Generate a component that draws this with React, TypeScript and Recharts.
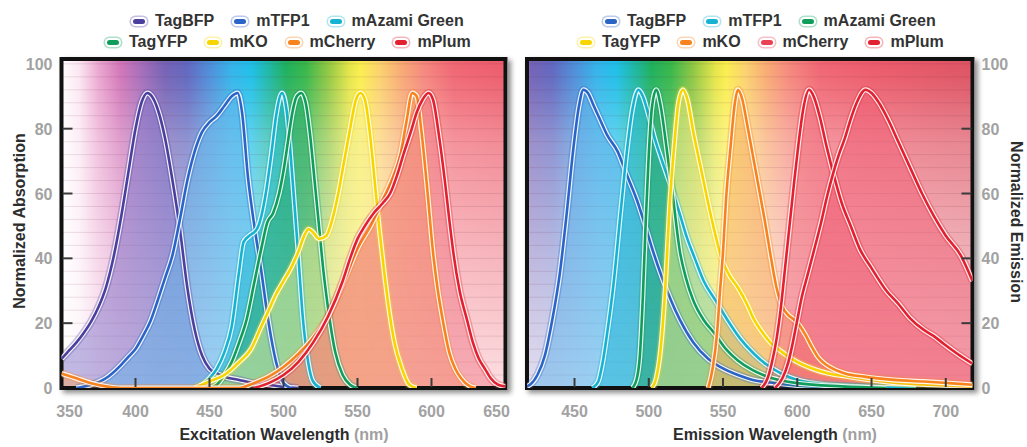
import React from "react";
import { ComposedChart, Area, Line, XAxis, YAxis, CartesianGrid, ReferenceArea } from "recharts";

type Pt = [number, number];

// axis ticks
const exTicks = [350, 400, 450, 500, 550, 600, 650];
const emTicks = [450, 500, 550, 600, 650, 700];
const yTicks = [0, 20, 40, 60, 80, 100];

const names = ["TagBFP", "mTFP1", "mAzami Green", "TagYFP", "mKO", "mCherry", "mPlum"];

// excitation spectra (nm, normalized absorption)
const tagBfpEx: Pt[] = [[350, 9], [355, 11.5], [360, 14], [365, 17], [370, 20.5], [375, 25], [380, 31], [385, 40], [390, 52], [395, 66], [400, 80], [404, 88], [408, 91], [411, 90], [415, 86], [420, 77], [425, 64], [430, 49], [435, 31], [440, 18], [445, 10], [450, 6], [455, 4.5], [460, 3.5], [470, 2.5], [480, 1.5], [490, 1], [500, 0.3], [510, 0]];
const mTfp1Ex: Pt[] = [[360, 0], [370, 1], [380, 3], [390, 7], [395, 9.5], [400, 12], [405, 16], [410, 20.5], [415, 27], [420, 34], [425, 41], [430, 52], [435, 64], [440, 73], [445, 79], [450, 82], [455, 84], [460, 87], [465, 90], [469, 91], [472, 85], [476, 65], [480, 51], [485, 36], [490, 20], [495, 8], [500, 1.5], [505, 0]];
const mAzamiEx: Pt[] = [[440, 0], [445, 1], [450, 3], [455, 6], [460, 11], [465, 19], [470, 36], [473, 45], [477, 47], [482, 49], [485, 53], [488, 60], [492, 73], [495, 84], [499, 91], [502, 86], [506, 65], [510, 41], [513, 22], [516, 10], [520, 2], [525, 0]];
const tagYfpEx: Pt[] = [[450, 0], [455, 1], [460, 4], [465, 8], [470, 14], [475, 21], [480, 32], [485, 43], [489, 51], [493, 54], [497, 60], [500, 67], [503, 76], [506, 85], [509, 90], [512, 91], [515, 88], [518, 78], [521, 64], [524, 50], [527, 36], [530, 25], [535, 11], [540, 4], [545, 1], [550, 0]];
const mKoEx: Pt[] = [[440, 0], [450, 2], [460, 4], [470, 8], [478, 12], [485, 19], [490, 24], [495, 29], [500, 33], [505, 37], [510, 42], [514, 47], [517, 49], [520, 48], [524, 46], [529, 47], [533, 52], [537, 60], [541, 70], [545, 80], [549, 89], [552, 91], [555, 89], [558, 80], [562, 62], [565, 48], [568, 36], [572, 22], [575, 14], [580, 6], [585, 1], [590, 0]];
const mCherryEx: Pt[] = [[350, 4.5], [360, 3], [370, 1.5], [380, 0.5], [390, 0], [470, 0], [480, 1.5], [490, 3.5], [500, 6.5], [510, 10.5], [520, 15.5], [530, 22], [540, 32], [550, 43], [560, 51], [567, 58], [573, 64], [579, 72], [583, 82], [587, 91], [590, 90], [593, 80], [597, 62], [601, 42], [604, 31], [608, 20], [612, 11], [616, 6], [620, 3], [626, 0.5], [630, 0]];
const mPlumEx: Pt[] = [[480, 0], [490, 1.5], [500, 4], [510, 8], [520, 14], [530, 22], [540, 33], [545, 40], [550, 46], [555, 50], [561, 54], [567, 57], [572, 60], [577, 66], [581, 72], [586, 79], [590, 85], [594, 89], [598, 91], [601, 89], [605, 78], [609, 64], [612, 52], [615, 41], [619, 30], [624, 21], [628, 14], [632, 9], [636, 6], [640, 3], [645, 1], [650, 0.5]];

// emission spectra (nm, normalized emission)
const tagBfpEm: Pt[] = [[418, 0.5], [420, 1], [425, 4], [430, 10], [435, 21], [440, 35], [445, 55], [449, 73], [453, 87], [456, 92], [459, 91], [463, 87], [467, 83], [472, 78], [479, 73], [485, 66], [492, 58], [497, 51], [503, 42], [509, 34], [515, 27], [521, 21], [530, 14], [540, 9], [548, 6.5], [560, 4], [570, 2.5], [585, 1.5], [600, 0.8], [620, 0.3], [640, 0]];
const mTfp1Em: Pt[] = [[462, 0], [466, 2], [469, 8], [472, 17], [476, 31], [481, 54], [485, 72], [489, 86], [493, 92], [496, 90], [500, 84], [504, 77], [509, 70], [515, 62], [520, 55], [526, 46], [531, 40], [537, 33], [545, 27], [553, 21], [562, 15], [571, 10.5], [580, 7], [589, 4.5], [600, 2.5], [620, 1], [650, 0.3], [680, 0]];
const mAzamiEm: Pt[] = [[489, 0], [492, 3], [494, 10], [496, 28], [498, 52], [500, 72], [502, 86], [505, 92], [508, 87], [512, 74], [516, 60], [521, 42], [525, 34], [530, 27], [537, 21], [544, 17], [552, 12], [560, 8.5], [570, 5.5], [580, 3.5], [600, 1.5], [630, 0.5], [660, 0]];
const tagYfpEm: Pt[] = [[502, 0], [505, 3], [508, 12], [511, 30], [514, 56], [517, 74], [520, 88], [523, 92], [526, 89], [530, 79], [535, 68], [540, 57], [545, 47], [549, 40], [554, 35], [560, 31], [566, 26], [571, 21], [576, 17.5], [582, 14], [590, 11], [598, 8.5], [610, 6], [621, 4.5], [635, 3.5], [650, 2.5], [670, 1.5], [690, 1], [718, 0.5]];
const mKoEm: Pt[] = [[540, 0], [543, 6], [546, 17], [548, 30], [550, 42], [552, 58], [555, 74], [558, 88], [560, 92], [563, 89], [566, 82], [570, 72], [574, 62], [578, 52], [582, 41], [586, 31], [590, 25], [594, 22.5], [598, 21], [602, 19], [606, 16], [610, 12.5], [614, 9.5], [620, 7], [626, 5.5], [632, 4.5], [645, 3.5], [665, 2.5], [685, 2], [702, 1.5], [718, 1]];
const mCherryEm: Pt[] = [[576, 0], [580, 3], [583, 8], [586, 15], [589, 25], [592, 38], [595, 51], [598, 64], [601, 76], [604, 86], [608, 92], [611, 90], [615, 84], [620, 74], [625, 65], [630, 57], [636, 50], [642, 43], [650, 37], [660, 30], [668, 26], [676, 21.5], [685, 18], [692, 16], [699, 13.5], [708, 10.5], [718, 7.5]];
const mPlumEm: Pt[] = [[585, 0], [590, 3], [594, 8], [597, 14], [600, 21], [603, 28], [607, 35], [611, 42], [616, 51], [620, 59], [624, 66], [628, 72], [632, 77], [636, 83], [640, 88], [646, 92], [650, 91], [655, 88], [661, 83], [668, 76], [676, 68], [684, 60], [692, 53], [700, 47], [710, 41], [718, 33]];

const exSpectra = [tagBfpEx, mTfp1Ex, mAzamiEx, tagYfpEx, mKoEx, mCherryEx, mPlumEx];
const emSpectra = [tagBfpEm, mTfp1Em, mAzamiEm, tagYfpEm, mKoEm, mCherryEm, mPlumEm];

const C = {
  purple: "#4b3f9e",
  blue: "#2a64c6",
  cyan: "#16b2d2",
  green: "#0f9d5c",
  yellow: "#f7d600",
  orange: "#f7831f",
  red: "#e3202f",
  pink: "#ea4254",
};
const exColors = [C.purple, C.blue, C.cyan, C.green, C.yellow, C.orange, C.red];
const exFills = ["#7d6ec6", "#5cb4ea", "#14b6d0", "#1fa566", "#f6ee90", "#f6a461", "#f07684"];
const emColors = [C.blue, C.cyan, C.green, C.yellow, C.orange, C.red, C.red];
const emFills = ["#5aaee8", "#16b4d6", "#1ba268", "#f7ec7a", "#f7a656", "#f06a7c", "#ee5a70"];
const exLegend = [C.purple, C.blue, C.cyan, C.green, C.yellow, C.orange, C.red];
const emLegend = [C.blue, C.cyan, C.green, C.yellow, C.orange, C.pink, C.red];

// wavelength -> background colour
const spectrumStops: [number, string][] = [
  [350, "#ffffff"], [362, "#fbe6f1"], [375, "#eba6d0"], [390, "#d174b7"], [405, "#a06bb9"],
  [420, "#7360b4"], [435, "#5f66bf"], [450, "#4c8cd8"], [465, "#31b3ea"], [478, "#1cbfe8"],
  [490, "#1bb7a6"], [502, "#1caf5a"], [515, "#35b648"], [530, "#8fc640"], [545, "#e6e646"],
  [552, "#fbee4c"], [565, "#fbd16c"], [580, "#f8a872"], [595, "#f5867c"], [615, "#f06572"],
  [650, "#ec5a6a"], [720, "#dc5262"],
];
const stripeValues = Array.from({ length: 25 }, (_, i) => (i + 1) * 4);

function buildTable(series: Pt[][]) {
  const xs = Array.from(new Set(series.flatMap((s) => s.map((p) => p[0])))).sort((a, b) => a - b);
  return xs.map((nm) => {
    const row: Record<string, number> = { nm };
    series.forEach((s, i) => {
      const hit = s.find((p) => p[0] === nm);
      if (hit) row["s" + i] = hit[1];
    });
    return row;
  });
}

const exData = buildTable(exSpectra);
const emData = buildTable(emSpectra);

const FONT = '"Liberation Sans", Arial, Helvetica, sans-serif';
const Y_MAX = 101.5;

function XTick(props: any) {
  const { x, y, payload, lo, hi } = props;
  const isLo = payload.value === lo;
  const isHi = payload.value === hi;
  const shift = isLo ? 8 : isHi ? -9 : 0;
  return (
    <g>
      {!isLo && !isHi && <line x1={x} x2={x} y1={y - 1} y2={y - 10} stroke="#3a3a3a" strokeWidth={2} />}
      <text x={x + shift} y={y + 29} textAnchor="middle" fill="#a2a2a2" fontFamily={FONT} fontWeight="bold" fontSize={16}>
        {payload.value}
      </text>
    </g>
  );
}

function YTick(props: any) {
  const { x, y, payload, side } = props;
  const dir = side === "left" ? 1 : -1;
  const edge = payload.value === 0 || payload.value === 100;
  return (
    <g>
      {!edge && <line x1={x + dir} x2={x + dir * 11} y1={y} y2={y} stroke="#3a3a3a" strokeWidth={2} />}
      <text
        x={x - dir * 9}
        y={y + 6}
        textAnchor={side === "left" ? "end" : "start"}
        fill="#a2a2a2"
        fontFamily={FONT}
        fontWeight="bold"
        fontSize={16}
      >
        {payload.value}
      </text>
    </g>
  );
}

function seriesMarks(colors: string[], fills: string[]) {
  const areas = colors.map((_, i) => (
    <Area
      key={"f" + i}
      type="monotone"
      dataKey={"s" + i}
      stroke="none"
      fill={fills[i]}
      fillOpacity={0.48}
      connectNulls
      dot={false}
      activeDot={false}
      isAnimationActive={false}
    />
  ));
  const lines = colors.flatMap((c, i) => [
    <Line key={"g" + i} type="monotone" dataKey={"s" + i} stroke={c} strokeOpacity={0.3} strokeWidth={8} dot={false} activeDot={false} connectNulls isAnimationActive={false} />,
    <Line key={"w" + i} type="monotone" dataKey={"s" + i} stroke="#ffffff" strokeOpacity={0.9} strokeWidth={5} dot={false} activeDot={false} connectNulls isAnimationActive={false} />,
    <Line key={"c" + i} type="monotone" dataKey={"s" + i} stroke={c} strokeWidth={2.6} dot={false} activeDot={false} connectNulls isAnimationActive={false} />,
  ]);
  return [...areas, ...lines];
}

function LegendRow({ items, left, top }: { items: [string, string][]; left: number; top: number }) {
  return (
    <div style={{ position: "absolute", left, top, display: "flex", alignItems: "center", gap: 17, whiteSpace: "nowrap", lineHeight: "18px" }}>
      {items.map(([name, color]) => (
        <div key={name} style={{ display: "flex", alignItems: "center" }}>
          <span
            style={{
              display: "inline-block",
              width: 12,
              height: 5,
              borderRadius: 3,
              background: color,
              boxShadow: `0 0 0 2px #ffffff, 0 0 0 3.5px ${color}55`,
              marginLeft: 3,
              marginRight: 10,
            }}
          />
          <span>{name}</span>
        </div>
      ))}
    </div>
  );
}

function Panel(props: {
  left: number;
  width: number;
  data: Record<string, number>[];
  domain: [number, number];
  ticks: number[];
  gradId: string;
  colors: string[];
  fills: string[];
  axisSide: "left" | "right";
}) {
  const { left, width, data, domain, ticks, gradId, colors, fills, axisSide } = props;
  const margin = axisSide === "left" ? { top: 59, right: 14.5, bottom: 29, left: 11.5 } : { top: 59, right: 14.5, bottom: 29, left: 12 };
  return (
    <div style={{ position: "absolute", left, top: 0, width, height: 447 }}>
      <ComposedChart width={width} height={447} data={data} margin={margin}>
        <CartesianGrid fill={`url(#${gradId})`} stroke="none" horizontal={false} vertical={false} />
        <CartesianGrid fill="url(#fadeV)" horizontalValues={stripeValues} vertical={false} stroke="rgba(110,50,70,0.13)" />
        <XAxis
          dataKey="nm"
          type="number"
          domain={domain}
          ticks={ticks}
          interval={0}
          allowDataOverflow
          axisLine={false}
          tickLine={false}
          tickSize={0}
          tickMargin={0}
          height={30}
          tick={<XTick lo={domain[0]} hi={domain[1]} />}
        />
        <YAxis
          orientation={axisSide}
          type="number"
          domain={[0, Y_MAX]}
          ticks={yTicks}
          interval={0}
          allowDataOverflow
          axisLine={false}
          tickLine={false}
          tickSize={0}
          tickMargin={0}
          width={axisSide === "left" ? 50 : 40}
          tick={<YTick side={axisSide} />}
        />
        {seriesMarks(colors, fills)}
        <ReferenceArea x1={domain[0]} x2={domain[1]} y1={0} y2={Y_MAX} fill="none" stroke="#111111" strokeWidth={4} ifOverflow="visible" />
      </ComposedChart>
    </div>
  );
}

function gradStops(lo: number, hi: number) {
  return spectrumStops.map(([nm, c]) => (
    <stop key={nm} offset={Math.min(1, Math.max(0, (nm - lo) / (hi - lo)))} stopColor={c} />
  ));
}

export default function App() {
  const titleStyle: React.CSSProperties = {
    position: "absolute",
    fontFamily: FONT,
    fontWeight: "bold",
    fontSize: 16,
    color: "#2d2d2d",
    whiteSpace: "nowrap",
    lineHeight: "18px",
  };
  return (
    <div style={{ position: "absolute", left: 0, top: 0, width: 1027, height: 447, background: "#ffffff", fontFamily: FONT, fontWeight: "bold", fontSize: 16, color: "#333333", overflow: "hidden" }}>
      <svg width={0} height={0} style={{ position: "absolute" }}>
        <defs>
          <linearGradient id="specEx" x1="0" x2="1" y1="0" y2="0">
            {gradStops(350, 650)}
          </linearGradient>
          <linearGradient id="specEm" x1="0" x2="1" y1="0" y2="0">
            {gradStops(418, 718)}
          </linearGradient>
          <linearGradient id="fadeV" x1="0" x2="0" y1="0" y2="1">
            <stop offset={0} stopColor="#ffffff" stopOpacity={0} />
            <stop offset={0.06} stopColor="#ffffff" stopOpacity={0.05} />
            <stop offset={0.25} stopColor="#ffffff" stopOpacity={0.3} />
            <stop offset={0.6} stopColor="#ffffff" stopOpacity={0.55} />
            <stop offset={1} stopColor="#ffffff" stopOpacity={0.8} />
          </linearGradient>
        </defs>
      </svg>

      {/* drop shadows behind the framed plots */}
      <div style={{ position: "absolute", left: 59.5, top: 57, width: 448, height: 333, boxShadow: "3px 3px 5px rgba(0,0,0,0.45)" }} />
      <div style={{ position: "absolute", left: 525, top: 57, width: 449.5, height: 333, boxShadow: "3px 3px 5px rgba(0,0,0,0.45)" }} />

      <Panel left={0} width={520} data={exData} domain={[350, 650]} ticks={exTicks} gradId="specEx" colors={exColors} fills={exFills} axisSide="left" />
      <Panel left={515} width={512} data={emData} domain={[418, 718]} ticks={emTicks} gradId="specEm" colors={emColors} fills={emFills} axisSide="right" />

      <LegendRow items={names.slice(0, 3).map((n, i) => [n, exLegend[i]] as [string, string])} left={130} top={12} />
      <LegendRow items={names.slice(3).map((n, i) => [n, exLegend[i + 3]] as [string, string])} left={104} top={33} />
      <LegendRow items={names.slice(0, 3).map((n, i) => [n, emLegend[i]] as [string, string])} left={602} top={12} />
      <LegendRow items={names.slice(3).map((n, i) => [n, emLegend[i + 3]] as [string, string])} left={577} top={33} />

      <div style={{ ...titleStyle, left: 284, top: 426, transform: "translateX(-50%)" }}>
        Excitation Wavelength <span style={{ color: "#a0a0a0" }}>(nm)</span>
      </div>
      <div style={{ ...titleStyle, left: 775, top: 426, transform: "translateX(-50%)" }}>
        Emission Wavelength <span style={{ color: "#a0a0a0" }}>(nm)</span>
      </div>
      <div style={{ ...titleStyle, left: 20, top: 221, transform: "translate(-50%, -50%) rotate(-90deg)" }}>Normalized Absorption</div>
      <div style={{ ...titleStyle, left: 1016, top: 222, transform: "translate(-50%, -50%) rotate(90deg)" }}>Normalized Emission</div>
    </div>
  );
}
